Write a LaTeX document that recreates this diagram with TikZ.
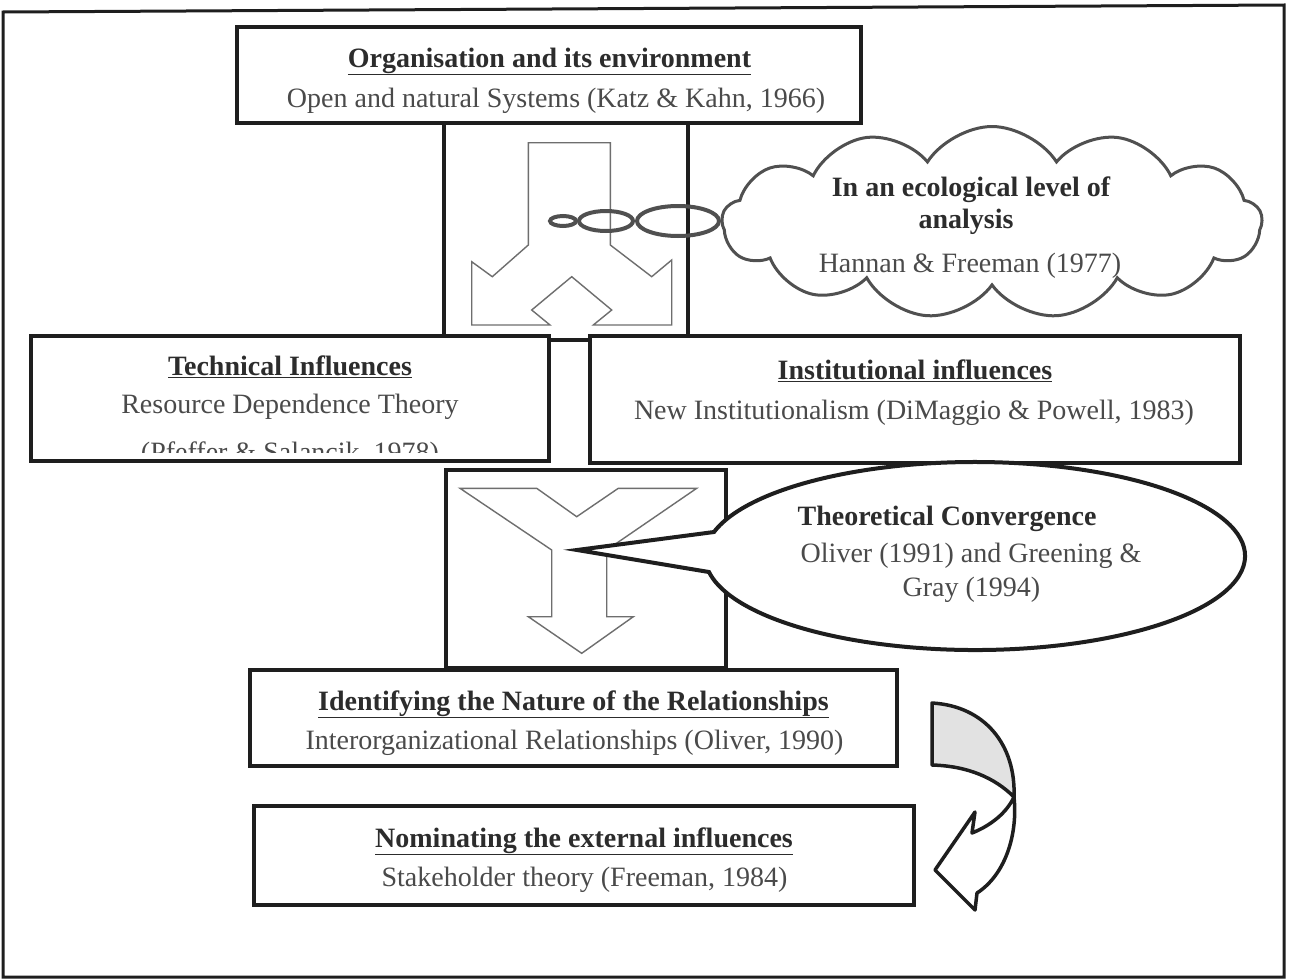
\documentclass[tikz,border=0pt]{standalone}
\usepackage{fontspec}
\setmainfont{Liberation Serif}
\usetikzlibrary{shapes.geometric,shapes.symbols}
\definecolor{ink}{HTML}{1E1E1E}
\definecolor{txtdark}{HTML}{2C2C2C}
\definecolor{txtgray}{HTML}{4A4A4A}
\definecolor{puff}{HTML}{505050}
\definecolor{arrowline}{HTML}{6E6E6E}
\definecolor{shade}{HTML}{E2E2E2}
\tikzset{
  box/.style={draw=ink, line width=4pt, fill=white, inner sep=0pt},
  head/.style={font=\fontsize{28}{33}\selectfont\bfseries, text=txtdark, inner sep=0pt, anchor=base},
  sub/.style={font=\fontsize{28}{33}\selectfont, text=txtgray, inner sep=0pt, anchor=base},
  hollow/.style={draw=arrowline, line width=1.4pt},
  bead/.style={draw=puff, line width=4pt},
  ribbon/.style={draw=ink, line width=3.5pt, line join=round}
}
\begin{document}
\begin{tikzpicture}[x=1pt,y=-1pt]
\useasboundingbox (0,0) rectangle (1296,980);
% outer frame
\draw[draw=ink, line width=3pt] (3,12) -- (1284,5) -- (1284,977) -- (3,977) -- cycle;

% frames holding the block arrows
\node[box, minimum width=244pt, minimum height=217pt] (splitbox) at (566,231.5) {};
\node[box, minimum width=280pt, minimum height=198pt] (mergebox) at (586,569) {};

% text boxes
\node[box, minimum width=624pt, minimum height=96pt] (orgbox) at (549,75) {};
\node[box, minimum width=518pt, minimum height=125pt] (techbox) at (290,398.5) {};
\node[box, minimum width=650pt, minimum height=127pt] (instbox) at (915,399.5) {};
\node[box, minimum width=647pt, minimum height=96pt] (relbox) at (573.5,718) {};
\node[box, minimum width=660pt, minimum height=99pt] (nombox) at (584,855.5) {};

% box texts
\node[head] (orgT) at (549.5,67) {\underline{Organisation and its environment}};
\node[sub]  (orgS) at (556,107) {Open and natural Systems (Katz \& Kahn, 1966)};

\node[head] (techT) at (290,375) {\underline{Technical Influences}};
\node[sub]  (techS) at (290,413) {Resource Dependence Theory};
\begin{scope}
  \clip (33,340) rectangle (547,452);
  \node[sub] (techR) at (290,461) {(Pfeffer \& Salancik, 1978)};
\end{scope}

\node[head] (instT) at (915,379) {\underline{Institutional influences}};
\node[sub]  (instS) at (914,419) {New Institutionalism (DiMaggio \& Powell, 1983)};

\node[head] (relT) at (573.5,710) {\underline{Identifying the Nature of the Relationships}};
\node[sub]  (relS) at (574.5,749) {Interorganizational Relationships (Oliver, 1990)};

\node[head] (nomT) at (584,847) {\underline{Nominating the external influences}};
\node[sub]  (nomS) at (584.5,886) {Stakeholder theory (Freeman, 1984)};

% splitting block arrow
\draw[hollow] (528.3,142.7) -- (610.3,142.7) -- (610.3,245) -- (651.7,276.7)
  -- (671.7,260) -- (671.7,325) -- (593.3,325) -- (611.7,310) -- (571.7,276.7)
  -- (531.7,310) -- (550,325) -- (471.7,325) -- (471.7,261.7) -- (492.3,276.7)
  -- (528.3,245) -- cycle;

% merging block arrow
\draw[hollow] (460,488.3) -- (536.7,488.3) -- (576.7,516.7) -- (618.3,488.3)
  -- (696.7,488.3) -- (606.7,550) -- (606.7,616.7) -- (633.3,616.7)
  -- (581.7,653.3) -- (528.3,616.7) -- (551.7,616.7) -- (551.7,550) -- cycle;

% thought beads and cloud
\draw[bead] (563,221) ellipse [x radius=13, y radius=5];
\draw[bead] (606,221) ellipse [x radius=27, y radius=10];
\draw[bead] (678,221) ellipse [x radius=41, y radius=15];
\node[cloud, cloud puffs=13, cloud puff arc=115, aspect=2.8, draw=puff,
      line width=3pt, fill=white, minimum width=540pt, minimum height=192pt,
      inner sep=0pt] (cloud) at (992,222.5) {};
\node[head] (ecoT1) at (971,196) {In an ecological level of};
\node[head] (ecoT2) at (966,228) {analysis};
\node[sub]  (ecoS)  at (970,272) {Hannan \& Freeman (1977)};

% speech bubble: elliptic body with a pointed tail
\draw[draw=ink, line width=4pt, fill=white, line join=miter]
  (714,532) arc[start angle=194.8, end angle=530.2, x radius=270, y radius=94]
  -- (577,550) -- cycle;
\coordinate (convtip) at (577,550);
\node[head] (convT) at (947,525) {Theoretical Convergence};
\node[sub]  (convS1) at (971,562) {Oliver (1991) and Greening \&};
\node[sub]  (convS2) at (971.5,596) {Gray (1994)};

% curved return arrow
\draw[ribbon, fill=white] (1014,797) .. controls (1018,835) and (1005,875) .. (977,893)
  -- (975,910) -- (935,870) -- (975,812) -- (972,833)
  .. controls (992,825) and (1007,812) .. (1014,797) -- cycle;
\draw[ribbon, fill=shade] (932,703) .. controls (985,706) and (1016,745) .. (1014,797)
  .. controls (995,778) and (968,766) .. (932,765) -- cycle;
\end{tikzpicture}
\end{document}
